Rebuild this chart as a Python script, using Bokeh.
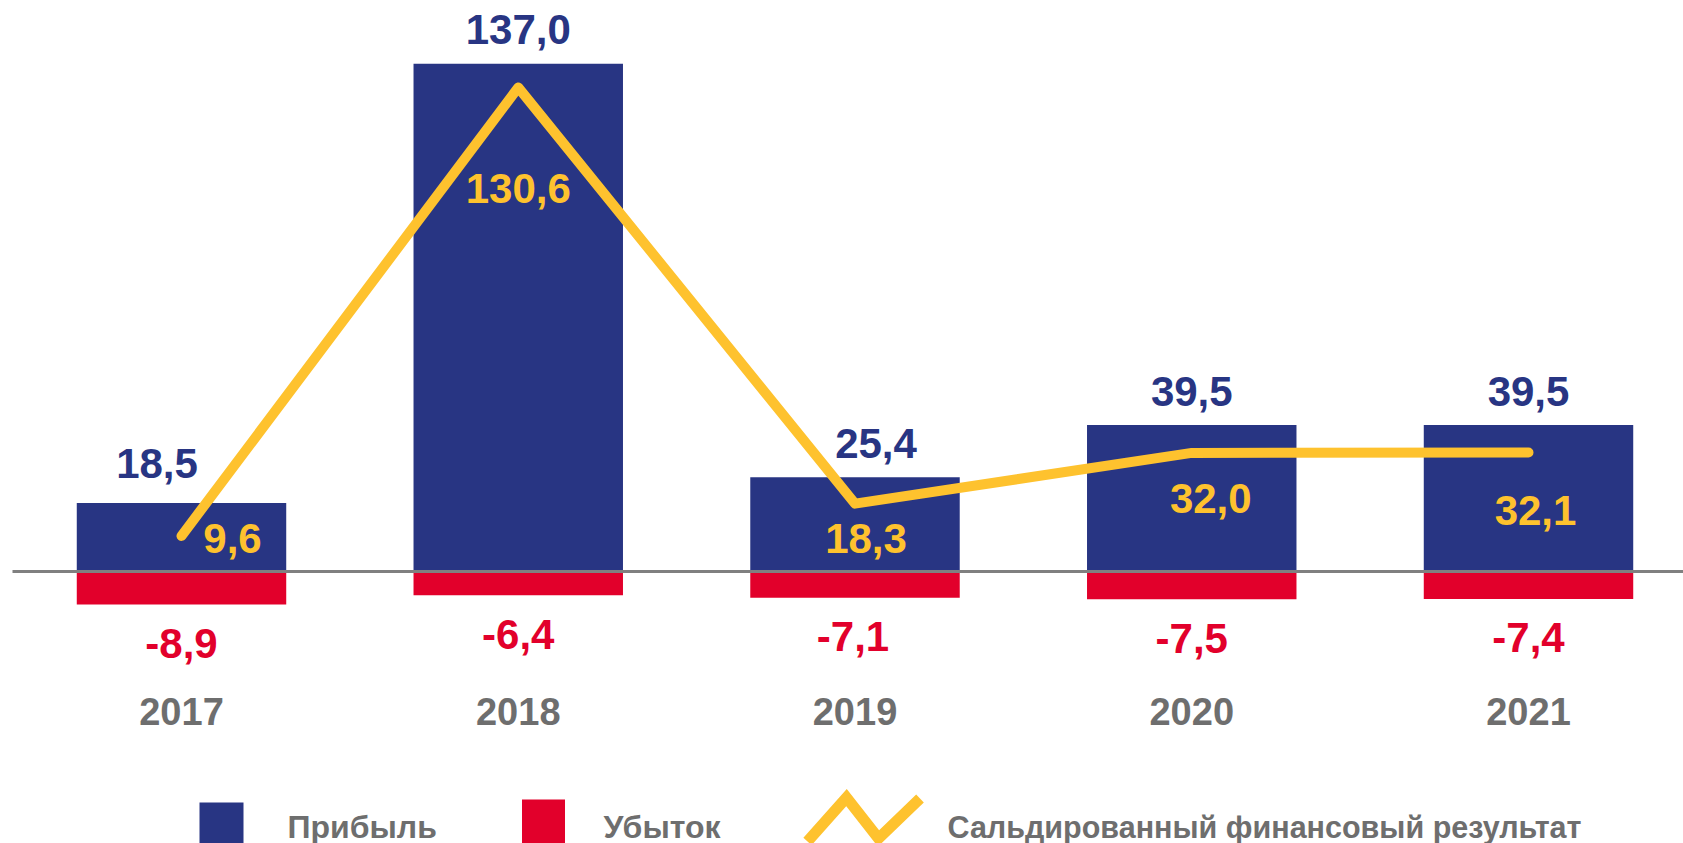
from bokeh.plotting import figure
from bokeh.models import Range1d, ColumnDataSource
from bokeh.core.properties import value
from bokeh.embed import file_html
from bokeh.resources import INLINE

# ---- data ----
years = ["2017", "2018", "2019", "2020", "2021"]
profit = [18.5, 137.0, 25.4, 39.5, 39.5]
loss = [-8.9, -6.4, -7.1, -7.5, -7.4]
saldo = [9.6, 130.6, 18.3, 32.0, 32.1]
legend_labels = ["Прибыль", "Убыток", "Сальдированный финансовый результат"]

# ---- styles ----
BLUE = "#283583"
RED = "#E2002B"
YELLOW = "#FEC22E"
GRAY = "#808080"
TXT_GRAY = "#6E6E6E"
FONT = value("Liberation Sans")

W, H = 1683, 843
PX_X = 336.75   # pixels per category
PX_Y = 3.706    # pixels per unit
X0 = -181 / PX_X
X1 = X0 + W / PX_X
Y1 = 571 / PX_Y
Y0 = -(H - 571) / PX_Y


def dx(px):  # page pixel -> data x
    return X0 + px / W * (X1 - X0)


def dy(py):  # page pixel -> data y
    return Y1 - py / H * (Y1 - Y0)


def fmt(v):
    return f"{v:.1f}".replace(".", ",")


idx = list(range(len(years)))

p = figure(width=W, height=H, x_range=Range1d(X0, X1), y_range=Range1d(Y0, Y1),
           output_backend="svg", toolbar_location=None, min_border=0,
           x_axis_location=None, y_axis_location=None)
p.grid.visible = False
p.outline_line_color = None
p.background_fill_color = "white"
p.border_fill_color = "white"

BW = 0.622
p.vbar(x=idx, top=profit, bottom=0, width=BW, fill_color=BLUE, line_color=None)
p.vbar(x=idx, top=0, bottom=loss, width=BW, fill_color=RED, line_color=None)

# zero line
p.segment(x0=[dx(12)], y0=[0], x1=[X1 + 0.1], y1=[0], line_color=GRAY, line_width=3)

# saldo line
p.line(x=idx, y=saldo, line_color=YELLOW, line_width=10, line_cap="round", line_join="round")

NUM_SIZE = "42px"
FIX = -14  # baseline correction for number labels
# labels
blue_src = ColumnDataSource(dict(x=idx, y=profit, t=[fmt(v) for v in profit],
                                 xo=[-24.5, 0, 21, 0, 0],
                                 yo=[v + FIX for v in [-25, -20, -20, -20, -20]]))
p.text(x="x", y="y", text="t", x_offset="xo", y_offset="yo", source=blue_src,
       text_font=FONT, text_font_style="bold", text_font_size=NUM_SIZE,
       text_color=BLUE, text_align="center", text_baseline="alphabetic")

red_src = ColumnDataSource(dict(x=idx, y=loss, t=[fmt(v) for v in loss],
                                xo=[0, 0, -2, 0, 0],
                                yo=[v + FIX for v in [53, 53, 53, 53, 53]]))
p.text(x="x", y="y", text="t", x_offset="xo", y_offset="yo", source=red_src,
       text_font=FONT, text_font_style="bold", text_font_size=NUM_SIZE,
       text_color=RED, text_align="center", text_baseline="alphabetic")

yel_src = ColumnDataSource(dict(x=idx, y=saldo, t=[fmt(v) for v in saldo],
                                xo=[51, 0, 11, 19, 7],
                                yo=[v + FIX for v in [16.6, 114.7, 48.5, 59.3, 72]]))
p.text(x="x", y="y", text="t", x_offset="xo", y_offset="yo", source=yel_src,
       text_font=FONT, text_font_style="bold", text_font_size=NUM_SIZE,
       text_color=YELLOW, text_align="center", text_baseline="alphabetic")

year_src = ColumnDataSource(dict(x=idx, y=[0] * len(idx), t=years))
p.text(x="x", y="y", text="t", y_offset=152.5 - 12.5, source=year_src,
       text_font=FONT, text_font_style="bold", text_font_size="38px",
       text_color=TXT_GRAY, text_align="center", text_baseline="alphabetic")

# legend (drawn manually)
p.quad(left=[dx(199), dx(521.5)], right=[dx(243), dx(564.5)],
       top=[dy(802), dy(799)], bottom=[dy(860), dy(860)],
       fill_color=[BLUE, RED], line_color=None)
p.line(x=[dx(807), dx(846), dx(878), dx(919.5)],
       y=[dy(841), dy(797), dy(838), dy(798)],
       line_color=YELLOW, line_width=11, line_join="miter", line_cap="butt")
p.text(x=[dx(287), dx(603)], y=[dy(835 - 9)] * 2, text=legend_labels[:2],
       text_font=FONT, text_font_style="bold", text_font_size="32px",
       text_color=TXT_GRAY, text_align="left", text_baseline="alphabetic")
p.text(x=[dx(947)], y=[dy(835 - 9)], text=legend_labels[2:],
       text_font=FONT, text_font_style="bold", text_font_size="30.5px",
       text_color=TXT_GRAY, text_align="left", text_baseline="alphabetic")

open("out.html", "w").write(file_html(p, INLINE))
